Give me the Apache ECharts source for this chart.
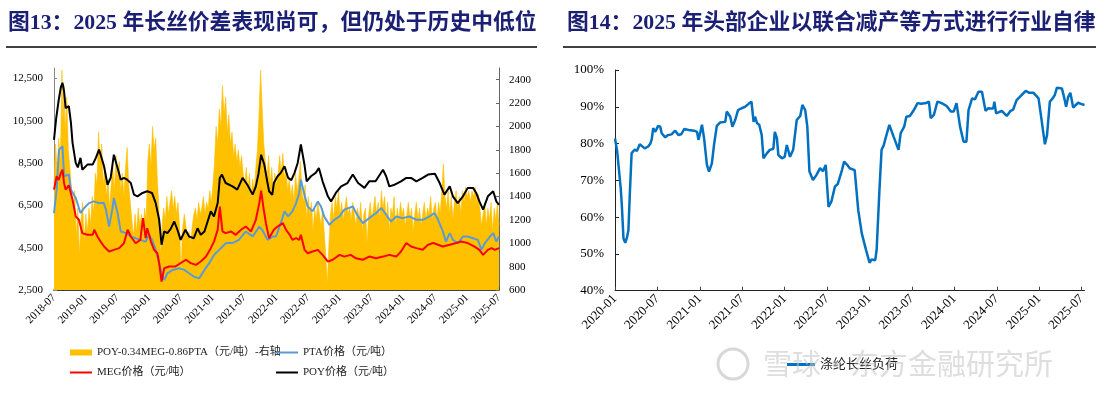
<!DOCTYPE html>
<html><head><meta charset="utf-8">
<script src="https://cdn.jsdelivr.net/npm/echarts@6/dist/echarts.min.js"></script>
<style>html,body{margin:0;padding:0;background:#fff}#c{width:1109px;height:394px}</style>
</head><body><div id="c"></div>
<script>
// x = months since 2018-07 (left chart); value on right axis (元/吨)
const spreadData = [[0,1500],[0.3,1850],[0.6,1600],[0.9,1900],[1.2,1700],[1.5,2480],[1.7,2050],[1.9,2350],[2.1,1950],[2.4,2250],[2.7,1800],[3.0,1650],[3.3,1450],
[3.6,1250],[3.9,1450],[4.2,1050],[4.5,1300],[4.8,900],[5.1,1200],[5.4,1350],[5.7,1000],[6.0,1250],[6.3,1100],[6.6,1300],[6.9,1150],[7.2,1400],[7.5,1250],
[7.8,1600],[8.1,1500],[8.4,1950],[8.7,1700],[9.0,1850],[9.3,1500],[9.6,1650],[9.9,1400],[10.2,1550],[10.5,1300],[10.8,1500],
[11.1,1650],[11.4,1450],[11.7,1750],[12.0,1550],[12.3,1700],[12.6,1450],[12.9,1600],[13.2,1400],[13.5,1650],[13.8,1820],[14.1,1500],[14.4,1350],
[14.7,1200],[15.0,1050],[15.3,1250],[15.6,1100],[15.9,1300],[16.2,1150],[16.5,1250],[16.8,1050],[17.1,1300],[17.4,1200],
[17.7,1700],[18.0,1850],[18.3,1650],[18.6,2000],[18.9,1800],[19.2,1900],[19.5,1550],[19.8,1300],
[20.1,900],[20.4,1150],[20.7,1300],[21.0,1200],[21.3,1400],[21.6,1250],[21.9,1350],[22.2,1450],[22.5,1300],[22.8,1400],[23.1,1250],[23.4,1350],[23.7,1150],[24.0,700],[24.2,1100],
[24.6,1250],[24.9,1150],[25.2,1050],[25.5,1100],[25.8,1000],[26.1,1150],[26.4,1250],[26.7,1300],[27.0,1200],[27.3,1350],[27.6,1250],[27.9,1300],[28.2,1400],[28.5,1250],[28.8,1350],[29.1,1300],[29.4,1450],[29.7,1350],[30.0,1500],
[30.3,1700],[30.6,2000],[30.9,1850],[31.2,2150],[31.5,2000],[31.8,2350],[32.1,2100],[32.4,2250],[32.7,1950],[33.0,2100],[33.3,1850],[33.6,1950],[33.9,1750],[34.2,1850],[34.5,1700],[34.8,1800],[35.1,1650],[35.4,1750],[35.7,1600],
[36.0,1500],[36.3,1650],[36.6,1450],[36.9,1600],[37.2,1400],[37.5,1550],[37.8,1450],[38.1,1650],[38.4,1800],
[38.7,2100],[39.0,2480],[39.3,2150],[39.6,1850],
[39.9,1700],[40.2,1550],[40.5,1750],[40.8,1500],[41.1,1650],[41.4,1450],[41.7,1600],[42.0,1500],
[42.3,1600],[42.6,1750],[42.9,1600],[43.2,1770],[43.5,1550],[43.8,1650],[44.1,1450],[44.4,1550],[44.7,1400],[45.0,1500],[45.3,1350],[45.6,1600],[45.9,1450],[46.2,1550],[46.5,1700],[46.8,1450],[47.1,1350],[47.4,1500],[47.7,1200],[48.0,1400],[48.3,1250],[48.6,1350],[48.9,1100],[49.2,1300],[49.5,1200],[49.8,1350],[50.1,1250],[50.4,1150],[50.7,1300],[51.0,1100],[51.3,900],[51.6,650],[51.9,1000],[52.2,1250],[52.5,1350],[52.8,1200],[53.1,1400],[53.4,1300],[53.7,1450],[54.0,1250],[54.3,1350],[54.6,1200],[54.9,1300],[55.2,1400],[55.5,1250],[55.8,1300],
[56.1,1200],[56.4,1350],[56.7,1250],[57.0,1150],[57.3,1300],[57.6,1200],[57.9,1350],[58.2,1100],[58.5,1250],[58.8,1300],[59.1,1000],[59.4,1250],[59.7,1350],[60.0,1200],[60.3,1300],[60.6,1400],[60.9,1250],[61.2,1350],[61.5,1200],[61.8,1450],
[62.1,1300],[62.4,1400],[62.7,1200],[63.0,1350],[63.3,1100],[63.6,1300],[63.9,1250],[64.2,1400],[64.5,1150],[64.8,1300],[65.1,1200],[65.4,1350],[65.7,1250],[66.0,1300],[66.3,1150],[66.6,1250],[66.9,1350],[67.2,1200],[67.5,1300],[67.8,1100],[68.1,1250],[68.4,1350],[68.7,1200],[69.0,1300],[69.3,1150],[69.6,1250],[69.9,1350],[70.2,1200],[70.5,1300],[70.8,1250],[71.1,1400],[71.4,1200],[71.7,1300],[72.0,1350],[72.3,1200],[72.6,1350],[72.9,1250],[73.2,1450],[73.5,1680],[73.8,1400],
[74.1,1300],[74.4,1450],[74.7,1250],[75.0,1400],[75.3,1200],[75.6,1350],[75.9,1450],[76.2,1300],[76.5,1400],[76.8,1250],[77.1,1450],[77.4,1350],[77.7,1480],[78.0,1400],[78.3,1450],
[78.6,1350],[78.9,1450],[79.2,1400],[79.5,1480],[79.8,1350],[80.1,1420],[80.4,1300],[80.7,1150],
[81.0,1250],[81.3,1350],[81.6,1150],[81.9,1300],[82.2,1200],[82.5,1350],[82.8,1100],[83.1,1300],[83.4,1200],[83.7,1350],[84.0,1150]];

const ptaData = [[0,6140],[0.5,7245],[0.95,9140],[1.6,9300],[1.9,7880],[2.2,7900],[2.8,7960],[3.2,7245],[4.1,6850],[5.0,6140],[5.7,6380],[6.6,6610],[7.5,6690],[8.5,6610],[9.4,6610],[9.8,6300],[10.4,5500],[11.0,6300],[11.3,6850],[12.0,6140],[12.6,5270],[13.6,5190],[14.5,5030],[15.4,4950],[16.3,4870],[17.3,4790],[17.9,5110],[18.5,4870],[19.2,4400],[19.85,3770],[20.3,3290],[20.8,2975],[21.4,3290],[22.4,3450],[23.6,3530],[24.6,3450],[25.5,3290],[26.4,3130],[27.4,3050],[28.4,3450],[29.3,3770],[30.2,4160],[31.2,4400],[32.5,4720],[33.7,4720],[34.9,4870],[36.2,5270],[37.5,5030],[38.75,5500],[39.3,5350],[40.3,4870],[41.3,5030],[41.9,5030],[42.8,5660],[43.5,6220],[44.2,5980],[45.0,6220],[45.7,6610],[46.3,7090],[46.6,7720],[47.3,6980],[47.9,6450],[48.8,6220],[49.8,6690],[50.4,6450],[51.0,5980],[52.0,5580],[52.9,5820],[53.9,5980],[54.8,6300],[56.4,6450],[57.4,5980],[58.3,5660],[59.5,5900],[60.8,6140],[61.8,6380],[62.7,6060],[63.6,5740],[64.6,5980],[65.8,5900],[67.1,5980],[68.4,5820],[69.6,5820],[70.9,5980],[71.8,6140],[72.5,5820],[73.4,5270],[74.0,4790],[74.7,5190],[75.3,4870],[76.2,4710],[77.2,5030],[78.1,5030],[79.1,4950],[80.0,4870],[80.7,4400],[81.3,4710],[82.3,5030],[82.9,5190],[83.5,4790],[84.0,5030]];

const megData = [[0,7245],[0.5,7880],[0.9,7700],[1.3,8040],[1.6,8190],[1.9,7560],[2.2,7245],[2.8,7450],[3.5,6770],[4.1,5980],[4.7,5820],[5.35,5190],[6.3,5110],[7.3,5110],[7.6,5350],[8.2,5030],[8.8,4790],[9.45,4555],[10.4,4320],[11.3,4400],[12.3,4480],[13.2,4710],[13.9,5350],[14.5,5030],[15.4,4710],[16.3,4870],[16.8,5900],[17.3,4950],[17.6,5420],[18.3,4790],[18.9,4400],[19.5,4240],[19.85,3770],[20.3,2895],[20.8,3530],[21.7,3610],[22.9,3610],[23.9,3770],[24.9,3930],[25.8,3770],[26.8,3690],[27.7,3850],[28.7,4080],[29.6,4480],[30.2,4790],[30.9,5350],[31.3,6450],[31.8,5270],[32.4,5190],[33.4,5270],[34.3,5110],[35.3,5350],[36.2,5500],[37.2,5270],[38.1,5820],[38.75,6610],[39.1,7200],[39.5,6450],[40.0,5660],[40.6,4950],[41.5,5350],[42.2,5500],[43.2,5660],[43.8,5350],[44.5,5110],[45.0,4870],[45.7,4950],[46.3,4870],[46.6,5110],[47.3,4400],[47.9,4240],[48.8,4320],[49.8,4400],[50.7,4160],[51.7,3840],[52.6,3930],[53.9,4160],[54.8,4080],[56.0,4160],[57.0,4000],[58.3,3930],[59.5,4080],[60.8,4000],[62.1,4080],[63.3,4160],[64.6,4080],[65.5,4320],[66.5,4720],[67.4,4555],[68.4,4480],[69.6,4400],[70.6,4640],[71.6,4720],[72.5,4640],[73.4,4555],[74.7,4640],[75.9,4720],[76.8,4790],[78.1,4720],[79.4,4555],[80.3,4400],[81.0,4160],[81.9,4400],[82.6,4480],[83.2,4400],[84.0,4480]];

const poyData = [[0,9600],[0.4,10600],[0.9,11500],[1.3,12100],[1.6,12300],[1.9,11900],[2.2,11100],[2.8,11200],[3.2,10400],[3.5,9460],[4.1,8510],[4.5,8300],[5.0,8750],[5.35,8190],[6.3,8430],[7.3,8430],[7.9,8750],[8.5,9140],[8.8,8900],[9.45,8350],[10.1,7480],[10.7,7800],[11.3,8900],[12.0,8270],[12.6,7720],[13.2,7800],[13.8,7720],[14.5,7560],[15.1,7010],[15.75,6930],[16.7,7090],[17.6,7170],[18.5,7090],[19.2,6610],[19.85,5820],[20.3,4640],[20.8,5270],[21.4,5190],[22.0,5380],[22.7,5740],[23.3,5350],[23.9,4870],[24.8,5350],[25.5,5030],[26.4,4950],[27.1,5420],[27.7,5110],[28.4,5270],[29.0,5740],[29.6,6220],[30.2,5980],[30.9,6610],[31.3,7800],[31.7,7960],[32.4,7560],[33.7,7400],[34.6,7250],[35.6,7800],[36.5,7480],[37.5,7010],[38.1,7400],[38.6,8000],[39.1,8900],[39.7,8430],[40.2,7700],[40.6,7170],[41.2,7000],[41.5,7560],[42.2,7880],[42.8,8040],[43.5,8350],[44.2,7800],[44.8,7700],[45.4,8040],[46.0,8510],[46.6,9380],[47.3,8400],[47.7,7640],[48.5,7880],[49.4,8040],[50.0,8270],[50.7,7640],[51.7,6930],[52.3,6690],[53.2,7090],[54.2,7400],[55.4,7560],[56.4,7960],[57.4,7560],[58.6,7330],[59.5,7640],[60.7,7640],[62.1,8190],[62.7,7880],[63.3,7400],[64.3,7480],[65.5,7640],[66.5,7800],[67.4,7800],[68.4,7640],[69.6,7800],[70.6,7960],[71.9,8000],[72.8,7560],[73.7,7010],[74.7,7400],[75.3,6930],[76.2,6610],[77.2,6930],[78.1,7330],[79.1,7330],[79.7,7090],[80.3,6690],[81.0,6300],[81.9,6930],[82.9,7170],[83.5,6690],[84.0,6530]];

// x = months since 2020-01 (right chart); value in %
const loadData = [[0,81.4],[0.3,78],[0.6,72],[0.8,68],[0.95,63.8],[1.2,54.2],[1.45,53.0],[1.7,54.5],[1.9,56.5],[2.1,66.5],[2.35,77.4],[2.8,78.4],[3.1,78.0],[3.3,77.5],[3.5,79.8],[4.2,78.7],[4.7,79.2],[5.0,80.0],[5.2,81.2],[5.4,84.2],[5.7,83.2],[6.1,84.8],[6.4,84.6],[6.6,82.8],[7.1,81.7],[7.5,82.3],[8.0,82.5],[8.5,83.5],[9.0,82.3],[9.4,82.6],[9.8,84.0],[10.4,83.7],[11.2,83.5],[11.6,83.2],[11.8,81.0],[12.0,82.5],[12.3,85.1],[12.6,81.4],[13.0,74.2],[13.3,72.4],[13.7,74.6],[14.0,79.6],[14.4,84.8],[14.85,85.7],[15.6,85.9],[15.8,88.7],[16.3,87.3],[16.6,84.6],[17.0,86.4],[17.2,86.0],[17.4,89.1],[17.9,89.6],[18.4,90.0],[18.9,90.8],[19.3,91.4],[19.6,85.9],[19.8,87.3],[20.1,85.5],[20.4,85.1],[20.75,82.3],[21.0,76.0],[21.5,77.4],[21.9,78.3],[22.4,78.6],[22.6,83.2],[22.9,81.5],[23.1,76.9],[23.6,76.0],[24.0,76.4],[24.3,79.6],[24.75,76.4],[25.2,78.3],[25.7,86.4],[26.2,87.5],[26.5,90.5],[26.9,89.1],[27.2,84.6],[27.5,72.4],[28.0,70.1],[28.5,71.5],[29.0,73.3],[29.4,72.5],[29.8,74.2],[30.2,62.8],[30.6,64.2],[31.1,68.3],[31.5,69.0],[32.1,72.8],[32.4,75.1],[32.8,74.3],[33.2,73.3],[33.9,72.8],[34.4,61.9],[34.9,55.6],[35.5,51.1],[36.0,47.6],[36.3,48.5],[36.8,48.3],[37.0,51],[37.4,67.4],[37.7,78.3],[38.0,79.5],[38.3,81.7],[38.8,85.1],[39.4,81.9],[40.1,78.3],[40.4,82.8],[40.9,84.6],[41.2,87.3],[41.7,87.5],[42.2,88.9],[42.8,91.0],[43.3,90.8],[44.0,91.0],[44.4,91.4],[44.65,86.9],[45.1,87.8],[45.6,91.4],[46.2,91.0],[46.9,90.2],[47.5,88.7],[47.9,88.7],[48.3,91.0],[48.8,84.6],[49.3,80.5],[49.7,80.5],[50.0,89.1],[50.5,92.3],[50.9,92.0],[51.4,94.1],[51.9,94.1],[52.4,88.9],[52.8,89.6],[53.5,89.5],[53.65,91.4],[53.9,88.2],[54.7,88.9],[55.4,87.5],[55.9,88.8],[56.3,89.2],[56.8,91.8],[57.5,93.2],[58.1,94.3],[58.6,93.8],[59.2,93.8],[59.9,92.3],[60.2,88.2],[60.8,79.8],[61.1,82.3],[61.5,91.4],[61.9,92.3],[62.2,93.2],[62.5,95.2],[63.2,95.0],[63.5,92.7],[63.8,90.0],[64.1,92.7],[64.4,93.8],[64.8,89.8],[65.5,91.1],[65.9,90.8],[66.4,90.5]];

const leftStart = [2018, 7];   // first tick label
const rightStart = [2020, 1];
const titleLeft = '图13：2025 年长丝价差表现尚可，但仍处于历史中低位';
const titleRight = '图14：2025 年头部企业以联合减产等方式进行行业自律';
const S1 = 'POY-0.34MEG-0.86PTA（元/吨）-右轴';
const S2 = 'PTA价格（元/吨）';
const S3 = 'MEG价格（元/吨）';
const S4 = 'POY价格（元/吨）';
const S5 = '涤纶长丝负荷';
const watermark = '雪球·东方金融研究所';

function monthLabel(start, m) {
  const total = start[0] * 12 + (start[1] - 1) + Math.round(m);
  const y = Math.floor(total / 12), mo = total % 12 + 1;
  return y + '-' + (mo < 10 ? '0' : '') + mo;
}
function thousands(v) { return String(v).replace(/\B(?=(\d{3})+(?!\d))/g, ','); }

const SERIF = '"Liberation Serif", "Noto Sans CJK SC", serif';
const chart = echarts.init(document.getElementById('c'), null, {renderer: 'canvas'});
const axisText = {fontFamily: SERIF, fontSize: 11, color: '#000'};
const legText = {fontFamily: SERIF, fontSize: 11, color: '#222'};

chart.setOption({
  animation: false,
  backgroundColor: '#fff',
  grid: [
    {left: 54, top: 68, width: 445, height: 222},
    {left: 615, top: 70, width: 469.5, height: 220.7}
  ],
  xAxis: [
    {type: 'value', gridIndex: 0, min: 0, max: 84, interval: 6,
     axisLine: {lineStyle: {color: '#000', width: 1.5}},
     axisTick: {show: true, inside: true, length: 3, lineStyle: {color: '#444'}},
     splitLine: {show: false},
     axisLabel: Object.assign({rotate: 45, margin: 6, formatter: v => monthLabel(leftStart, v)}, axisText)},
    {type: 'value', gridIndex: 1, min: 0, max: 66.4, interval: 6,
     axisLine: {lineStyle: {color: '#222', width: 1}},
     axisTick: {show: true, inside: true, length: 4, lineStyle: {color: '#444'}},
     splitLine: {show: false},
     axisLabel: Object.assign({rotate: 45, margin: 6, showMaxLabel: false, formatter: v => monthLabel(rightStart, v)}, axisText, {fontSize: 13})}
  ],
  yAxis: [
    {type: 'value', gridIndex: 0, min: 2500, max: 13000, interval: 2000,
     axisLine: {show: true, lineStyle: {color: '#888', width: 1}},
     axisTick: {show: true, inside: true, length: 3, lineStyle: {color: '#888'}},
     splitLine: {show: false},
     axisLabel: Object.assign({margin: 11, showMaxLabel: false, formatter: v => thousands(v)}, axisText)},
    {type: 'value', gridIndex: 0, position: 'right', min: 600, max: 2500, interval: 200,
     axisLine: {show: true, lineStyle: {color: '#666', width: 1}},
     axisTick: {show: true, inside: true, length: 3, lineStyle: {color: '#666'}},
     splitLine: {show: false},
     axisLabel: Object.assign({margin: 10, showMaxLabel: false, formatter: v => String(v)}, axisText)},
    {type: 'value', gridIndex: 1, min: 40, max: 100, interval: 10,
     axisLine: {show: true, lineStyle: {color: '#222', width: 1}},
     axisTick: {show: true, inside: true, length: 4, lineStyle: {color: '#222'}},
     splitLine: {show: false},
     axisLabel: Object.assign({margin: 11, formatter: '{value}%'}, axisText, {fontSize: 13})}
  ],
  legend: [
    {data: [S1], left: 70, top: 347, padding: 0, icon: 'rect', itemWidth: 22, itemHeight: 6, textStyle: legText, selectedMode: false},
    {data: [S2], left: 276, top: 347, padding: 0, icon: 'rect', itemWidth: 22, itemHeight: 2, textStyle: legText, selectedMode: false},
    {data: [S3], left: 70, top: 367, padding: 0, icon: 'rect', itemWidth: 22, itemHeight: 2, textStyle: legText, selectedMode: false},
    {data: [S4], left: 276, top: 367, padding: 0, icon: 'rect', itemWidth: 22, itemHeight: 2, textStyle: legText, selectedMode: false},
    {data: [S5], left: 787, top: 358, padding: 0, icon: 'rect', itemWidth: 28, itemHeight: 3, textStyle: Object.assign({}, legText, {fontSize: 13}), selectedMode: false}
  ],
  graphic: [
    {type: 'text', left: 8, top: 12, z: 10, style: {text: titleLeft, font: 'bold 21.8px ' + SERIF, fill: '#1C2075'}},
    {type: 'text', left: 567, top: 12, z: 10, style: {text: titleRight, font: 'bold 21.8px ' + SERIF, fill: '#1C2075'}},
    {type: 'line', z: 10, shape: {x1: 6, y1: 47, x2: 537, y2: 47}, style: {stroke: '#000', lineWidth: 1.3}},
    {type: 'line', z: 10, shape: {x1: 563, y1: 47, x2: 1096, y2: 47}, style: {stroke: '#000', lineWidth: 1.3}},
    {type: 'circle', z: 100, shape: {cx: 733, cy: 364, r: 15}, style: {fill: 'none', stroke: 'rgba(190,190,190,0.6)', lineWidth: 3}},
    {type: 'text', z: 100, left: 763, top: 349, style: {text: watermark, font: '29px "Noto Sans CJK SC"', fill: 'rgba(195,195,195,0.55)'}}
  ],
  series: [
    {name: S1, type: 'line', xAxisIndex: 0, yAxisIndex: 1, data: spreadData, symbol: 'none', color: '#FFC000',
     lineStyle: {width: 0.6, color: '#FFC000'}, areaStyle: {color: '#FFC000', opacity: 1, origin: 'start'}, z: 1},
    {name: S2, type: 'line', xAxisIndex: 0, yAxisIndex: 0, data: ptaData, symbol: 'none', color: '#5B9BD5', lineStyle: {width: 2, color: '#5B9BD5'}, z: 2},
    {name: S3, type: 'line', xAxisIndex: 0, yAxisIndex: 0, data: megData, symbol: 'none', color: '#FF0000', lineStyle: {width: 2, color: '#FF0000'}, z: 3},
    {name: S4, type: 'line', xAxisIndex: 0, yAxisIndex: 0, data: poyData, symbol: 'none', color: '#000000', lineStyle: {width: 2, color: '#000000'}, z: 4},
    {name: S5, type: 'line', xAxisIndex: 1, yAxisIndex: 2, data: loadData, symbol: 'none', color: '#0070C0', lineStyle: {width: 2.5, color: '#0070C0'}, z: 2}
  ]
});
</script></body></html>
